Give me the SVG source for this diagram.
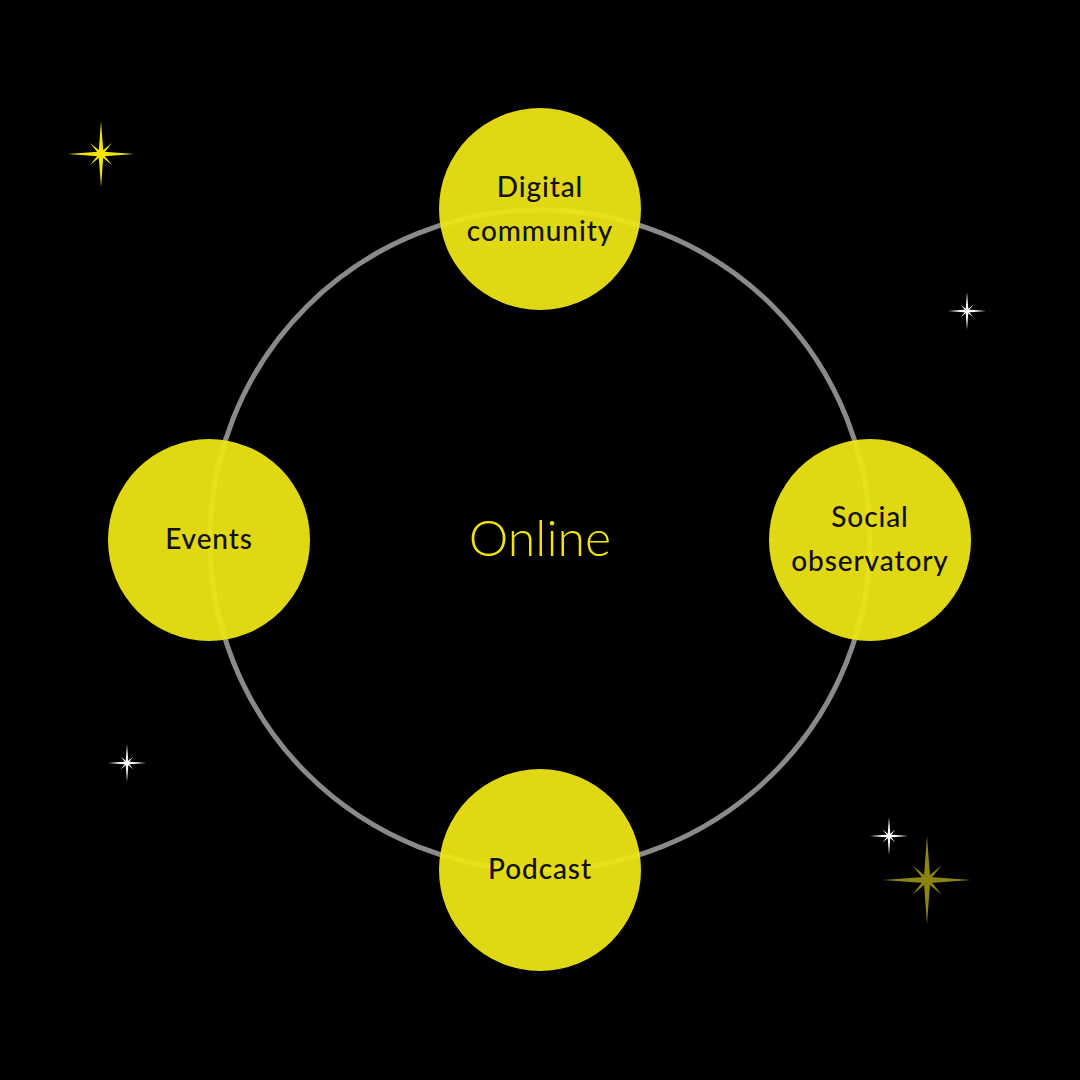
<svg xmlns="http://www.w3.org/2000/svg" width="1080" height="1080" viewBox="0 0 1080 1080">
<defs>
<style>
.node{fill:#EFE616;fill-opacity:0.94}
.lbl{font-family:"Lato","Inter","Liberation Sans",sans-serif;font-size:28px;font-weight:500;fill:#111;text-anchor:middle;letter-spacing:0.9px}
.ring{fill:none;stroke:#8a8a8a;stroke-width:5}
</style>
<path id="ray" d="M-1,0 L0,-0.075 L1,0 L0,0.075 Z"/>
<path id="dray" d="M-0.47,0 L0,-0.05 L0.47,0 L0,0.05 Z"/>
<g id="star">
<use href="#ray"/>
<use href="#ray" transform="rotate(90)"/>
<use href="#dray" transform="rotate(45)"/>
<use href="#dray" transform="rotate(-45)"/>
<circle r="0.1"/>
</g>
</defs>
<rect width="1080" height="1080" fill="#000"/>
<g id="connectors">
<circle class="ring" cx="540" cy="540" r="330"/>
</g>
<g id="center-label">
<text x="540" y="556" font-family="Lato,Inter,'Liberation Sans',sans-serif" font-weight="300" font-size="50" fill="#F2E600" text-anchor="middle">Online</text>
</g>
<g id="node-digital">
<circle class="node" cx="540" cy="209" r="101"/>
<text class="lbl" x="540" y="197">Digital</text>
<text class="lbl" x="540" y="241">community</text>
</g>
<g id="node-events">
<circle class="node" cx="209" cy="540" r="101"/>
<text class="lbl" x="209" y="549">Events</text>
</g>
<g id="node-social">
<circle class="node" cx="870" cy="540" r="101"/>
<text class="lbl" x="870" y="527">Social</text>
<text class="lbl" x="870" y="571">observatory</text>
</g>
<g id="node-podcast">
<circle class="node" cx="540" cy="870" r="101"/>
<text class="lbl" x="540" y="879">Podcast</text>
</g>
<g id="stars">
<use href="#star" transform="translate(101,154) scale(33)" fill="#F2E600"/>
<use href="#star" transform="translate(967,311) scale(19)" fill="#fff"/>
<use href="#star" transform="translate(127,763) scale(19)" fill="#fff"/>
<use href="#star" transform="translate(889,836) scale(19)" fill="#fff"/>
<use href="#star" transform="translate(927,880) scale(44)" fill="#8C8510"/>
</g>
</svg>
